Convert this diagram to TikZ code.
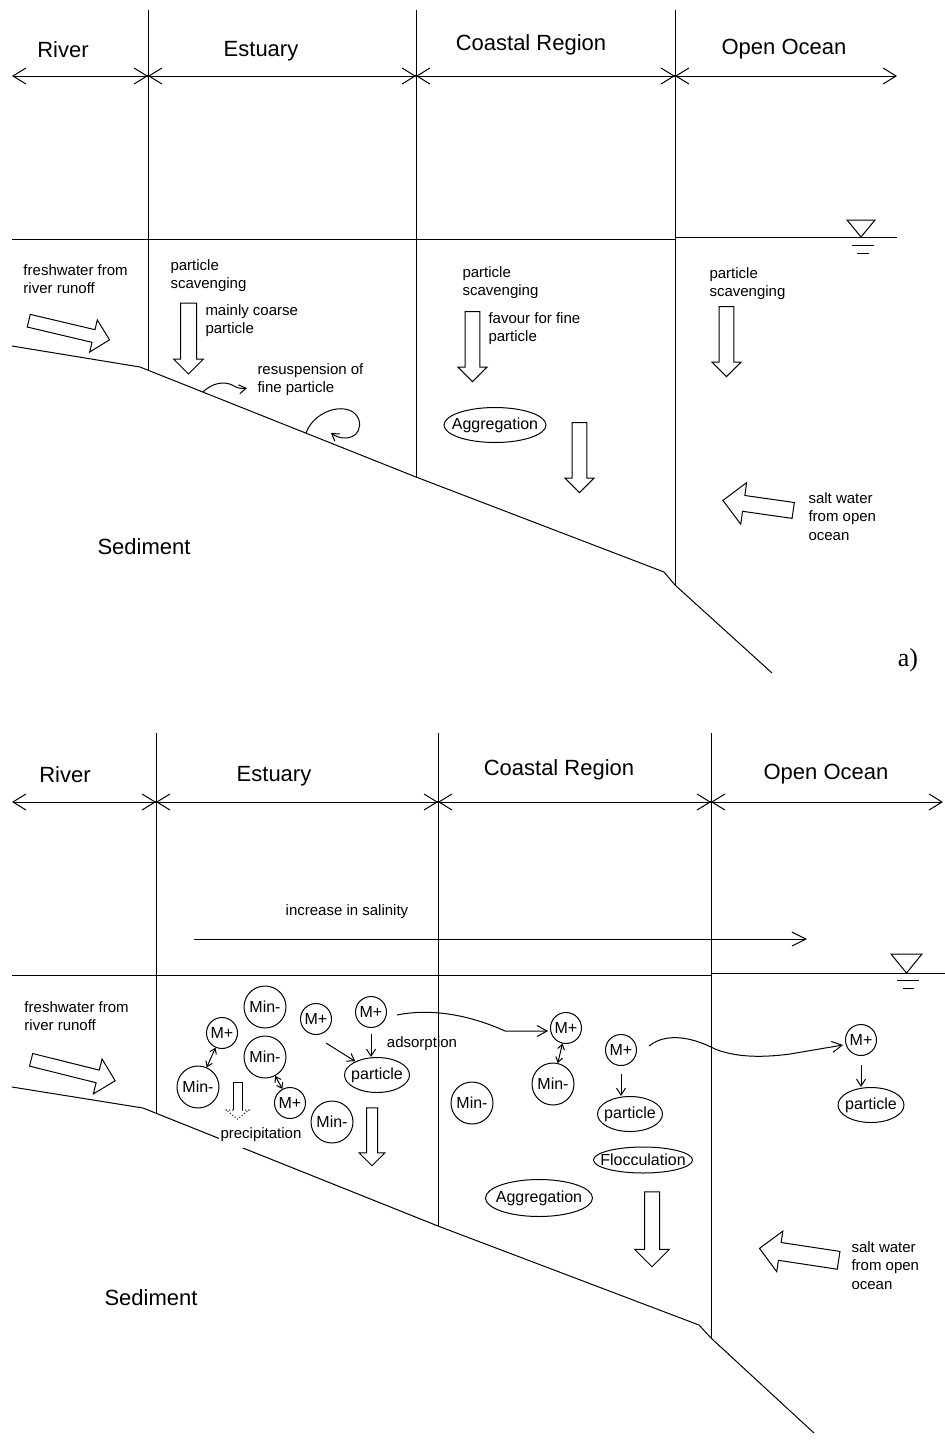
\documentclass[tikz,border=0pt]{standalone}
\usepackage{fontspec}
\setmainfont{Liberation Sans}
\newfontfamily\figletter{Liberation Serif}
\usetikzlibrary{arrows.meta,shapes.arrows,shapes.geometric}

\newcommand{\nowidth}[1]{\makebox[0pt]{#1}}

\tikzset{
  zonename/.style={anchor=base, inner sep=0pt, font=\fontsize{11}{13}\selectfont},
  remark/.style={anchor=north west, inner sep=0pt, align=left, font=\fontsize{7.5}{9.3}\selectfont},
  zonespan/.style={{Straight Barb[length=6.5pt,width=8pt]}-{Straight Barb[length=6.5pt,width=8pt]}},
  ion/.style={circle, draw, inner sep=0pt, font=\fontsize{8}{9}\selectfont},
  mplus/.style={ion, minimum size=15.5pt},
  mminus/.style={ion, minimum size=21pt},
  blob/.style={ellipse, draw, inner sep=0pt, font=\fontsize{8}{9}\selectfont},
  sink/.style={single arrow, draw, inner sep=0pt, inner ysep=3.4pt, single arrow head extend=3.6pt, minimum height=35pt, rotate=-90},
  drift/.style={single arrow, draw, inner sep=0pt},
  pointer/.style={-{Straight Barb[length=3.5pt,width=4.5pt]}},
  exchange/.style={{Straight Barb[length=2.5pt,width=3.5pt]}-{Straight Barb[length=2.5pt,width=3.5pt]}},
  carry/.style={-{Straight Barb[length=5pt,width=5.5pt]}}
}

\begin{document}
\begin{tikzpicture}[x=0.5pt, y=-0.5pt, line width=0.5pt]
\useasboundingbox (0,0) rectangle (945,1441);

% ============ a) ============
\draw (148,10) -- (148,370);		% river / estuary
\draw (416,10) -- (416,477);		% estuary / coastal region
\draw (675,10) -- (675,585);		% coastal region / open ocean

% zone spans
\foreach \n/\x in {0/12,1/148,2/416,3/675,4/897}
  \coordinate (ta\n) at (\x,76);
\foreach \a/\b in {0/1,1/2,2/3,3/4}
  \draw[zonespan] (ta\a) -- (ta\b);
\foreach \n in {1,2,3}
  \fill (ta\n) circle[radius=0.7pt];

\node[zonename] (riverA) at (63,57) {River};
\node[zonename] (estuaryA) at (261,56) {Estuary};
\node[zonename] (coastA) at (531,50) {Coastal Region};
\node[zonename] (oceanA) at (784,54) {Open Ocean};

% water surface
\draw (12,239) -- (675,239) (675,237) -- (897,237);
\draw (847,220) -- (875,220) -- (861,237) -- cycle;
\draw (852,245) -- (874,245) (857,253) -- (869,253);

% sea bed
\draw (12,346) -- (140,367) -- (416,477) -- (664,572) -- (675,585) -- (772,673);

\node[remark] (freshTxtA) at (23,264) {freshwater from\\river runoff};
\node[remark] (scavTxtA1) at (170,259) {particle\\scavenging};
\node[remark] (coarseTxtA) at (205,304) {mainly coarse\\particle};
\node[remark] (resusTxtA) at (257,363) {resuspension of\\fine particle};
\node[remark] (scavTxtA2) at (462,266) {particle\\scavenging};
\node[remark] (fineTxtA) at (488,312) {favour for fine\\particle};
\node[remark] (scavTxtA3) at (709,267) {particle\\scavenging};
\node[remark] (saltTxtA) at (808,492) {salt water\\from open\\ocean};
\node[zonename] (sedA) at (144,554) {Sediment};
\node[inner sep=0pt, font=\figletter\fontsize{13}{15}\selectfont] (tagA) at (908,660) {a)};

\node[drift, inner ysep=3pt, single arrow head extend=5pt, minimum height=41.5pt, rotate=-13.3] (inflowA) at (66,329.5) {};
\node[sink, inner ysep=3.75pt, single arrow head extend=3.5pt, minimum height=35.5pt] (sinkA1) at (188.5,334.5) {};
\node[sink] (sinkA2) at (472.5,343) {};
\node[sink] (sinkA3) at (579.5,454) {};
\node[sink] (sinkA4) at (726.5,338) {};
\node[drift, inner ysep=3.75pt, single arrow head extend=6.5pt, minimum height=35.5pt, rotate=171.9] (saltA) at (762,506) {};

\node[blob, minimum width=51pt, minimum height=17.5pt] (aggA) at (495,425) {\nowidth{Aggregation}};

% resuspension
\draw[pointer] (203,392) .. controls (212,383) and (224,381) .. (232,385) .. controls (237,388) and (241,389) .. (247,388);
\draw[pointer] (306,433) .. controls (315,408) and (352,400) .. (359,420) .. controls (363,437) and (345,443) .. (331,433);

% ============ b) ============
\draw (156,733) -- (156,1113);		% river / estuary
\draw (438,733) -- (438,1226);		% estuary / coastal region
\draw (711,733) -- (711,1338);		% coastal region / open ocean

\foreach \n/\x in {0/12,1/156,2/438,3/711,4/943}
  \coordinate (tb\n) at (\x,802);
\foreach \a/\b in {0/1,1/2,2/3,3/4}
  \draw[zonespan] (tb\a) -- (tb\b);
\foreach \n in {1,2,3}
  \fill (tb\n) circle[radius=0.7pt];

\node[zonename] (riverB) at (65,782) {River};
\node[zonename] (estuaryB) at (274,781) {Estuary};
\node[zonename] (coastB) at (559,775) {Coastal Region};
\node[zonename] (oceanB) at (826,779) {Open Ocean};

% salinity
\coordinate (salin0) at (194,939);
\coordinate (salin1) at (807,939);
\draw[-{Straight Barb[length=7pt,width=7pt]}] (salin0) -- (salin1);
\node[remark, anchor=base] (salinTxt) at (347,915) {increase in salinity};

% water surface
\draw (12,975) -- (711,975) (711,973) -- (945,973);
\draw (891,954) -- (922,954) -- (906.5,973) -- cycle;
\draw (897,980) -- (919,980) (903,988) -- (914,988);

% sea bed
\draw (12,1087) -- (143,1108) -- (438,1226) -- (699,1325) -- (711,1338) -- (814,1433);

\node[remark, anchor=base, fill=white, inner xsep=1pt, inner ysep=3.5pt] (precipTxt) at (261,1138) {precipitation};
\node[remark] (freshTxtB) at (24,1001) {freshwater from\\river runoff};
\node[remark, anchor=base] (adsorbTxt) at (422,1047) {adsorption};
\node[remark] (saltTxtB) at (851,1241) {salt water\\from open\\ocean};
\node[zonename] (sedB) at (151,1305) {Sediment};

\node[drift, inner ysep=3pt, single arrow head extend=5.75pt, minimum height=43.3pt, rotate=-14] (inflowB) at (70,1069.5) {};
\node[sink, inner ysep=2.5pt, single arrow head extend=3.75pt, minimum height=29pt] (sinkB1) at (372,1134) {};
\node[sink, inner ysep=3.5pt, single arrow head extend=5pt, minimum height=37.5pt] (sinkB2) at (652,1225.5) {};
\node[drift, inner ysep=4.25pt, single arrow head extend=5.75pt, minimum height=40pt, rotate=171.4] (saltB) at (803.5,1255) {};

% precipitation arrow, dotted head
\draw (233,1110) -- (233,1082) -- (242,1082) -- (242,1110);
\draw[densely dotted] (233,1110) -- (226,1110) -- (237.5,1119) -- (249,1110) -- (242,1110);

% estuary
\node[mminus] (mnE1) at (265,1007) {Min-};
\node[mplus] (mpE1) at (222,1033) {M+};
\node[mminus] (mnE2) at (198,1087) {Min-};
\node[mminus] (mnE3) at (265,1057) {Min-};
\node[mplus] (mpE2) at (290,1103) {M+};
\node[mplus] (mpE3) at (316,1019) {M+};
\node[mplus] (mpE4) at (371,1012) {M+};
\node[blob, minimum width=32.5pt, minimum height=17.5pt] (ptE) at (377,1075) {\nowidth{particle}};
\node[mminus] (mnE4) at (332,1122) {Min-};

% coastal region
\node[mminus] (mnC1) at (472,1103) {Min-};
\node[mplus] (mpC1) at (566,1028) {M+};
\node[mminus] (mnC2) at (553,1084) {Min-};
\node[mplus] (mpC2) at (621,1050) {M+};
\node[blob, minimum width=32.5pt, minimum height=17.5pt] (ptC) at (630,1114) {\nowidth{particle}};
\node[blob, minimum width=49.5pt, minimum height=13pt] (flocC) at (643,1160) {\nowidth{Flocculation}};
\node[blob, minimum width=53.5pt, minimum height=18.5pt] (aggB) at (539,1198) {\nowidth{Aggregation}};

% open ocean
\node[mplus] (mpO) at (861,1040) {M+};
\node[blob, minimum width=33pt, minimum height=17.5pt] (ptO) at (871,1105) {\nowidth{particle}};

% exchanges
\draw[exchange] (mpE1) -- (mnE2);
\draw[exchange] (mnE3) -- (mpE2);
\draw[exchange] (mpC1) -- (mnC2);
\draw[pointer] ([shift={(10,24)}]mpE3.center) -- (ptE);
\draw[pointer, shorten <=3pt] (mpE4.south) -- (mpE4.south |- ptE.north);
\draw[pointer, shorten <=4pt] (mpC2.south) -- (mpC2.south |- ptC.north);
\draw[pointer, shorten <=4.5pt] (mpO.south) -- (mpO.south |- ptO.north);
\draw[carry] ([shift={(10,3)}]mpE4.east) .. controls +(34,-7) and +(-35,-16) .. (505,1031) -- ([shift={(-2,3)}]mpC1.west);
\draw[carry] ([shift={(12,-4)}]mpC2.east) .. controls +(16,-13) and +(-25,-13) .. (715,1049) .. controls +(20,8) and +(-30,4) .. (790,1054) -- ([shift={(-2,5)}]mpO.west);

\end{tikzpicture}
\end{document}
